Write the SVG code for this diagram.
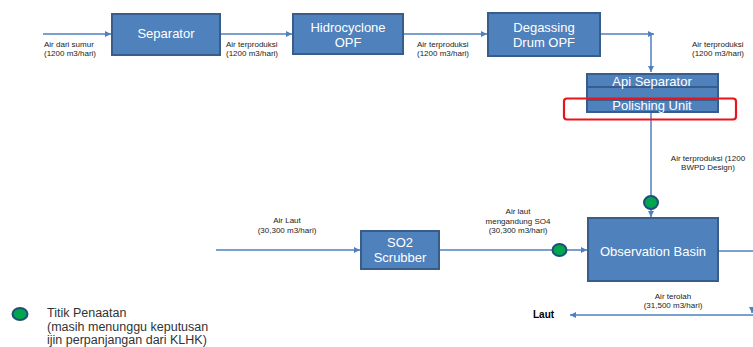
<svg xmlns="http://www.w3.org/2000/svg" width="753" height="347" viewBox="0 0 753 347">
<style>
.box{fill:#4F81BD;stroke:#385D8A;stroke-width:2}
.bt{font-family:"Liberation Sans",Arial,sans-serif;font-size:13px;fill:#ffffff;text-anchor:middle}
.lbl{font-family:"Liberation Sans",Arial,sans-serif;font-size:8px;fill:#222222}
.lc{text-anchor:middle}
.ln{fill:none;stroke:#4F81BD;stroke-width:1.5}
.dot{fill:#00A550;stroke:#1F4E79;stroke-width:2}
.leg{font-family:"Liberation Sans",Arial,sans-serif;font-size:12.5px;fill:#333333}
</style>
<defs>
<marker id="ah" viewBox="0 0 10 10" refX="10" refY="5" markerWidth="6" markerHeight="6" orient="auto" markerUnits="userSpaceOnUse">
<path d="M0,0 L10,5 L0,10 z" fill="#4F81BD"/>
</marker>
</defs>
<rect width="753" height="347" fill="#ffffff"/>
<g id="connectors">
<line class="ln" x1="43" y1="34" x2="111" y2="34" marker-end="url(#ah)"/>
<line class="ln" x1="221" y1="34" x2="292" y2="34" marker-end="url(#ah)"/>
<line class="ln" x1="404" y1="34" x2="487" y2="34" marker-end="url(#ah)"/>
<line class="ln" x1="601" y1="34" x2="654" y2="34" marker-end="url(#ah)"/>
<line class="ln" x1="651" y1="34" x2="651" y2="72" marker-end="url(#ah)"/>
<line class="ln" x1="651" y1="112" x2="651" y2="217" marker-end="url(#ah)"/>
<line class="ln" x1="216" y1="250" x2="360" y2="250" marker-end="url(#ah)"/>
<line class="ln" x1="440" y1="250" x2="587" y2="250" marker-end="url(#ah)"/>
<line class="ln" x1="718" y1="251" x2="753" y2="251"/>
<line class="ln" x1="753" y1="315" x2="570" y2="315" marker-end="url(#ah)"/>
<line class="ln" x1="752" y1="307" x2="752" y2="313" marker-end="url(#ah)"/>
</g>
<g id="separator">
<rect class="box" x="112" y="14" width="108" height="41"/>
<text class="bt" x="166" y="38">Separator</text>
</g>
<g id="hidrocyclone">
<rect class="box" x="293" y="14" width="110" height="40"/>
<text class="bt" x="348" y="32">Hidrocyclone</text>
<text class="bt" x="348" y="47">OPF</text>
</g>
<g id="degassing">
<rect class="box" x="488" y="13" width="112" height="43"/>
<text class="bt" x="544" y="32">Degassing</text>
<text class="bt" x="544" y="47">Drum OPF</text>
</g>
<g id="api-separator">
<rect class="box" x="587" y="74" width="131" height="13"/>
<rect class="box" x="587" y="87" width="131" height="13"/>
<rect class="box" x="587" y="100" width="131" height="12"/>
<text class="bt" x="652" y="86">Api Separator</text>
<text class="bt" x="652" y="110">Polishing Unit</text>
<rect x="564" y="98.5" width="172" height="21" rx="3" fill="none" stroke="#E8141B" stroke-width="2.2"/>
</g>
<g id="so2-scrubber">
<rect class="box" x="361" y="231" width="78" height="38"/>
<text class="bt" x="400" y="247">SO2</text>
<text class="bt" x="400" y="262">Scrubber</text>
</g>
<g id="observation-basin">
<rect class="box" x="588" y="218" width="130" height="63"/>
<text class="bt" x="653" y="256">Observation Basin</text>
</g>
<g id="dots">
<ellipse class="dot" cx="651" cy="202.5" rx="7" ry="6.5"/>
<ellipse class="dot" cx="559.5" cy="250" rx="7" ry="6"/>
</g>
<g id="labels">
<text class="lbl" x="44" y="47">Air dari  sumur</text>
<text class="lbl" x="44" y="56">(1200 m3/hari)</text>
<text class="lbl" x="226" y="47">Air terproduksi</text>
<text class="lbl" x="226" y="56">(1200 m3/hari)</text>
<text class="lbl" x="417" y="47">Air terproduksi</text>
<text class="lbl" x="417" y="56">(1200 m3/hari)</text>
<text class="lbl" x="692" y="47">Air terproduksi</text>
<text class="lbl" x="692" y="56">(1200 m3/hari)</text>
<text class="lbl lc" x="708" y="161">Air terproduksi (1200</text>
<text class="lbl lc" x="708" y="170">BWPD Design)</text>
<text class="lbl lc" x="287" y="223">Air Laut</text>
<text class="lbl lc" x="287" y="233">(30,300 m3/hari)</text>
<text class="lbl lc" x="518" y="214">Air laut</text>
<text class="lbl lc" x="518" y="224">mengandung SO4</text>
<text class="lbl lc" x="518" y="233">(30,300 m3/hari)</text>
<text class="lbl lc" x="673" y="299">Air terolah</text>
<text class="lbl lc" x="673" y="308">(31,500 m3/hari)</text>
<text x="533" y="318" font-family="'Liberation Sans',Arial,sans-serif" font-size="10" font-weight="bold" fill="#000000">Laut</text>
</g>
<g id="legend">
<ellipse class="dot" cx="20" cy="314" rx="7.5" ry="6"/>
<text class="leg" x="47" y="317">Titik Penaatan</text>
<text class="leg" x="47" y="331">(masih menunggu keputusan</text>
<text class="leg" x="47" y="344">ijin perpanjangan dari KLHK)</text>
</g>
</svg>
